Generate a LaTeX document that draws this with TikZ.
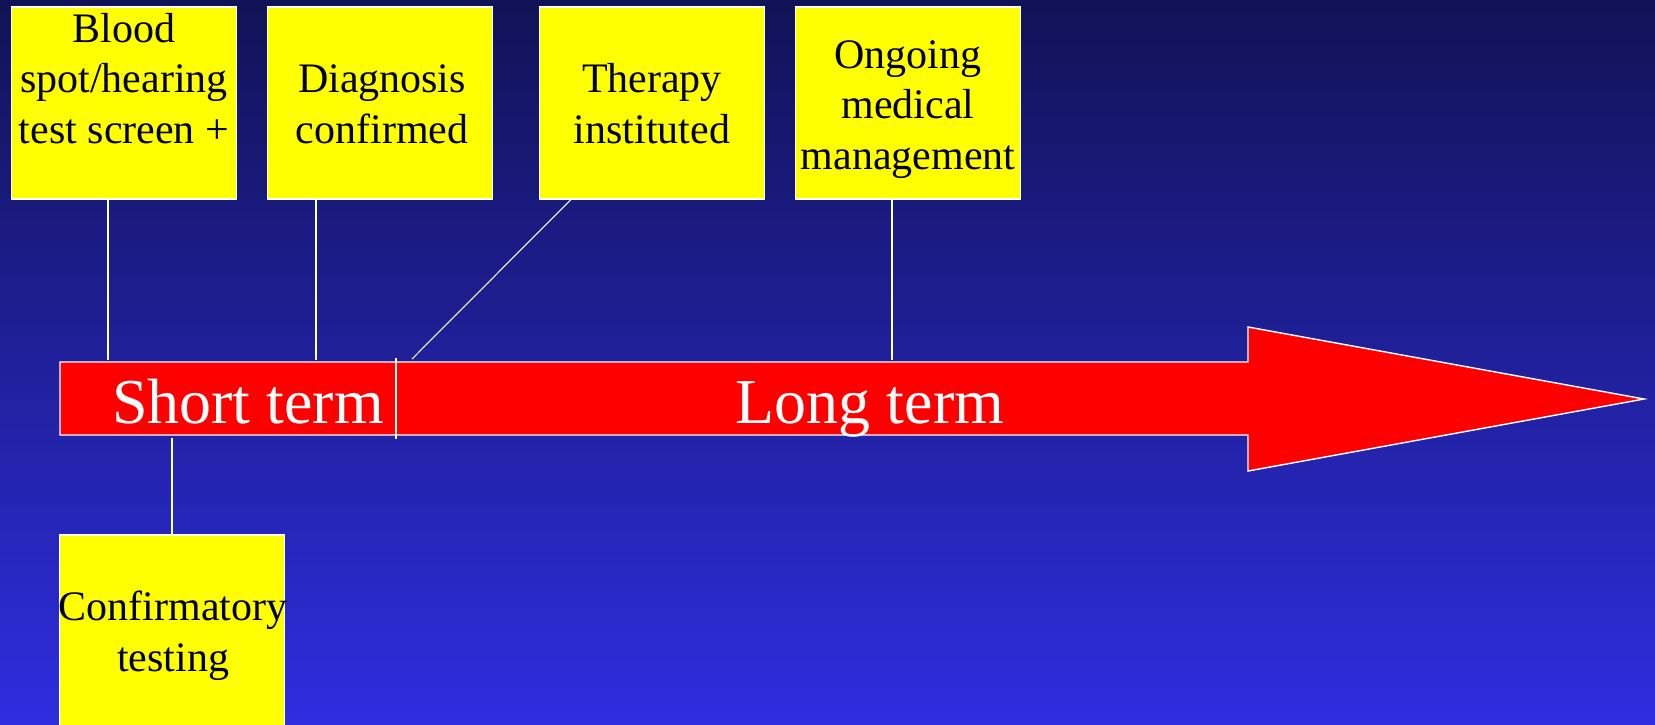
\documentclass[tikz,border=0pt]{standalone}
\usepackage{fontspec}
\setmainfont{Liberation Serif}
\usepackage{xcolor}
\definecolor{navytop}{RGB}{18,18,86}
\definecolor{navybottom}{RGB}{46,46,224}
\definecolor{noteyellow}{RGB}{255,255,0}
\definecolor{arrowred}{RGB}{255,0,0}

\begin{document}
\begin{tikzpicture}[x=0.02cm, y=-0.02cm,
  notebox/.style={draw=white, line width=0.9pt, fill=noteyellow,
    minimum width=4.5cm, minimum height=3.84cm, inner sep=0pt},
  notetext/.style={align=center, inner sep=0pt, anchor=base,
    font=\fontsize{23.9}{28.7}\selectfont},
  termtext/.style={white, inner sep=0pt, anchor=base,
    font=\fontsize{36.4}{40}\selectfont},
  leadline/.style={white, line width=0.6pt}]
  % Background
  \useasboundingbox (0,0) rectangle (1655,724);
  \clip (0,0) rectangle (1655,724);
  \shade[top color=navytop, bottom color=navybottom] (0,0) rectangle (1655,724);
  % Arrow
  \draw[white, fill=arrowred, line width=0.8pt] (60,362) -- (1248,362) -- (1248,327)
    -- (1644,399) -- (1248,471) -- (1248,435) -- (60,435) -- cycle;
  \draw[leadline] (396,358) -- (396,439);
  \node[termtext] (short) at (248,423) {Short term};
  \node[termtext] (long) at (870,423) {Long term};
  % Points on the arrow
  \coordinate (p1) at (108,360);
  \coordinate (p2) at (316,360);
  \coordinate (p3) at (412,359);
  \coordinate (p4) at (892,360);
  \coordinate (p5) at (172,438);
  % Boxes
  \node[notebox] (blood) at (124,103) {};
  \node[notebox] (diag) at (380,103) {};
  \node[notebox] (therapy) at (652,103) {};
  \node[notebox] (ongoing) at (908,103) {};
  \node[notebox] (confirm) at (172,631) {};
  % Box texts (base = last line)
  \node[notetext] (bloodtxt) at (124,143) {Blood\\spot/hearing\\test screen +};
  \node[notetext] (diagtxt) at (382,143) {Diagnosis\\confirmed};
  \node[notetext] (therapytxt) at (652,143) {Therapy\\instituted};
  \node[notetext] (ongoingtxt) at (908,169) {Ongoing\\medical\\management};
  \node[notetext] (confirmtxt) at (173,671) {Confirmatory\\testing};
  % Lead lines
  \draw[leadline] (blood.south -| p1) -- (p1);
  \draw[leadline] (diag.south -| p2) -- (p2);
  \draw[leadline] (therapy.south west) ++(32,0) -- (p3);
  \draw[leadline] (ongoing.south -| p4) -- (p4);
  \draw[leadline] (confirm.north) -- (p5);
\end{tikzpicture}
\end{document}
